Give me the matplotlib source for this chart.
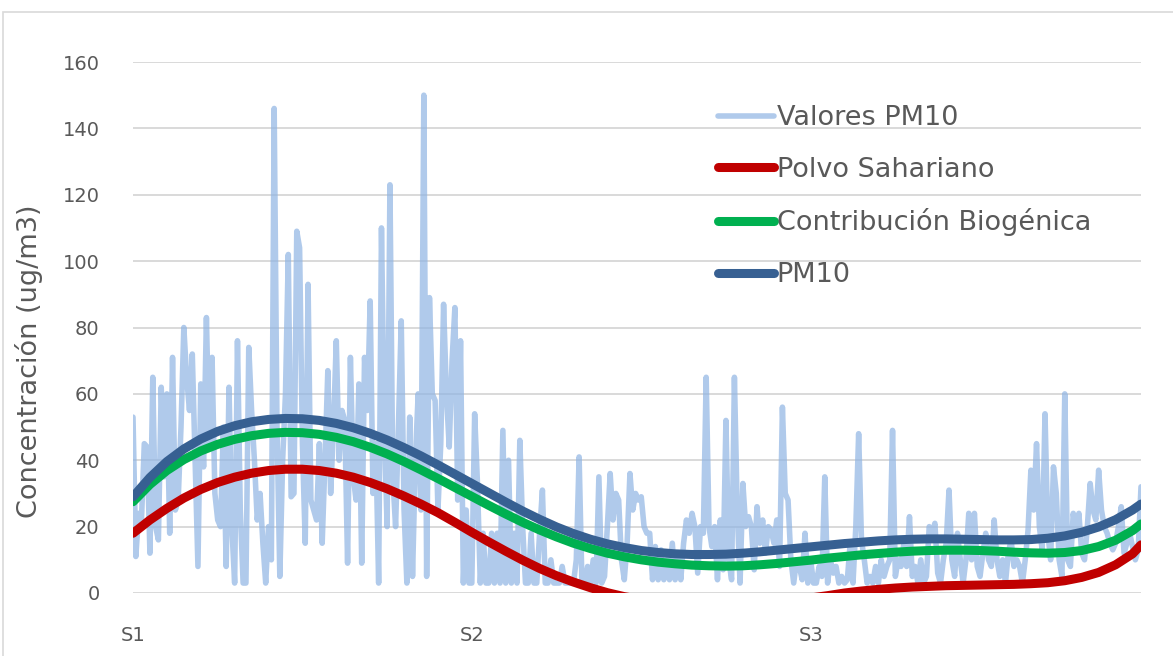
import numpy as np
import matplotlib.pyplot as plt
from matplotlib.patches import Rectangle

# daily PM10 values (ug/m3)
pm10_valores = [
    53, 11, 24, 22, 45, 44, 12, 65, 20, 16, 62, 35, 60, 18, 71, 25, 28, 50, 80, 65,
    55, 72, 40, 8, 63, 38, 83, 45, 71, 30, 22, 20, 50, 8, 62, 20, 3, 76, 25, 3,
    3, 74, 55, 40, 22, 30, 15, 3, 20, 10, 146, 50, 5, 40, 60, 102, 29, 30, 109, 104,
    45, 15, 93, 28, 25, 22, 45, 15, 40, 67, 30, 50, 76, 40, 55, 52, 9, 71, 35, 28,
    63, 9, 71, 55, 88, 30, 45, 3, 110, 50, 20, 123, 35, 20, 50, 82, 25, 3, 53, 5,
    40, 60, 25, 150, 5, 89, 60, 58, 25, 45, 87, 60, 44, 70, 86, 28, 76, 3, 25, 3,
    3, 54, 33, 3, 18, 3, 3, 18, 3, 18, 3, 49, 3, 40, 3, 18, 3, 46, 20, 3,
    3, 18, 3, 3, 18, 31, 3, 3, 10, 3, 3, 3, 8, 3, 3, 3, 3, 10, 41, 3,
    3, 8, 3, 10, 3, 35, 3, 5, 20, 36, 22, 30, 28, 10, 4, 15, 36, 25, 30, 28,
    29, 20, 18, 18, 4, 14, 4, 13, 4, 10, 4, 15, 4, 12, 4, 15, 22, 18, 24, 20,
    6, 20, 18, 65, 20, 14, 20, 4, 22, 7, 52, 10, 4, 65, 25, 3, 33, 20, 23, 20,
    7, 26, 15, 22, 12, 20, 19, 15, 22, 8, 56, 30, 28, 10, 3, 10, 8, 4, 18, 3,
    10, 3, 3, 8, 5, 35, 3, 10, 6, 8, 3, 5, 3, 4, 15, 3, 20, 48, 16, 10,
    3, 5, 3, 8, 3, 10, 5, 8, 10, 49, 5, 10, 8, 15, 8, 23, 5, 8, 3, 10,
    3, 5, 20, 18, 21, 6, 3, 10, 15, 31, 10, 5, 18, 10, 3, 10, 24, 10, 24, 8,
    5, 12, 18, 10, 8, 22, 10, 5, 10, 3, 12, 16, 8, 10, 8, 3, 10, 19, 37, 25,
    45, 20, 13, 54, 18, 10, 38, 30, 10, 5, 60, 10, 8, 24, 18, 24, 12, 10, 20, 33,
    25, 22, 37, 25, 20, 18, 15, 13, 15, 20, 26, 12, 15, 18, 14, 10, 13, 32,
]

# trend curves, read every 6 days
trend_idx = list(range(0, 355, 6)) + [357]
polvo_sahariano = [
    18.0, 22.0, 25.5, 28.6, 31.2, 33.3, 34.9, 36.1, 36.9, 37.3, 37.3, 36.9, 36.1, 34.9, 33.3,
    31.4, 29.2, 26.8, 24.2, 21.3, 18.3, 15.4, 12.6, 9.9, 7.4, 5.2, 3.3, 1.6, 0.1, -1.1,
    -2.0, -2.7, -3.2, -3.5, -3.6, -3.6, -3.4, -3.1, -2.7, -2.1, -1.5, -0.8, 0.0, 0.6, 1.1,
    1.5, 1.8, 2.0, 2.2, 2.3, 2.4, 2.5, 2.6, 2.8, 3.1, 3.7, 4.7, 6.2, 8.5, 11.8, 14.5,
]
contrib_biogenica = [
    27.5, 32.7, 36.9, 40.2, 42.8, 44.8, 46.3, 47.4, 48.1, 48.4, 48.3, 47.8, 46.9, 45.6, 43.9,
    41.9, 39.6, 37.1, 34.5, 31.8, 29.1, 26.4, 23.8, 21.3, 19.0, 16.9, 15.0, 13.4, 12.0, 10.9,
    10.0, 9.3, 8.8, 8.4, 8.2, 8.1, 8.2, 8.5, 8.9, 9.4, 9.9, 10.5, 11.0, 11.5, 11.9,
    12.3, 12.6, 12.8, 12.9, 12.9, 12.8, 12.6, 12.3, 12.1, 12.0, 12.2, 12.8, 14.0, 15.9, 18.8, 20.8,
]
pm10_tend = [
    29.0, 34.8, 39.6, 43.4, 46.4, 48.7, 50.4, 51.6, 52.3, 52.6, 52.5, 52.0, 51.1, 49.8, 48.1,
    46.1, 43.8, 41.3, 38.6, 35.8, 33.0, 30.2, 27.4, 24.7, 22.2, 19.9, 17.9, 16.2, 14.8, 13.7,
    12.8, 12.2, 11.8, 11.6, 11.6, 11.7, 12.0, 12.4, 12.9, 13.4, 13.9, 14.4, 14.9, 15.3, 15.7,
    16.0, 16.2, 16.3, 16.3, 16.2, 16.1, 16.0, 16.0, 16.1, 16.5, 17.2, 18.3, 19.9, 22.1, 25.0, 26.8,
]

x_ticks = [0, 120, 240]
x_labels = ['S1', 'S2', 'S3']
y_ticks = [0, 20, 40, 60, 80, 100, 120, 140, 160]

W, H = 1173, 656
fig = plt.figure(figsize=(W / 100, H / 100), dpi=100)
ax = fig.add_axes([133 / W, (H - 593) / H, (1141 - 133) / W, (593 - 62) / H])

# chart border
fig.patches.append(Rectangle((3 / W, -0.05), 1.2, (H - 12) / H + 0.05, transform=fig.transFigure,
                             fill=False, edgecolor='#D9D9D9', linewidth=1.2))

txt = '#595959'
x = np.arange(len(pm10_valores))
ax.plot(x, pm10_valores, color='#8FB4E3', alpha=0.7, lw=4.0, solid_joinstyle='round',
        solid_capstyle='round', label='Valores PM10', zorder=2)
ax.plot(trend_idx, polvo_sahariano, color='#C00000', lw=6.5, solid_capstyle='round',
        solid_joinstyle='round', label='Polvo Sahariano', zorder=3)
ax.plot(trend_idx, contrib_biogenica, color='#00B050', lw=6.5, solid_capstyle='round',
        solid_joinstyle='round', label='Contribución Biogénica', zorder=4)
ax.plot(trend_idx, pm10_tend, color='#376092', lw=6.5, solid_capstyle='round',
        solid_joinstyle='round', label='PM10', zorder=5)

ax.set_xlim(0, len(pm10_valores) - 1)
ax.set_ylim(0, 160)
ax.set_yticks(y_ticks)
ax.set_xticks(x_ticks)
ax.set_xticklabels(x_labels)
ax.grid(axis='y', color='#D9D9D9', lw=1.4)
ax.set_axisbelow(True)
for s in ax.spines.values():
    s.set_visible(False)
ax.tick_params(axis='y', length=0, pad=24, labelsize=14, labelcolor=txt)
ax.tick_params(axis='x', length=0, pad=24, labelsize=14, labelcolor=txt)

ax.set_ylabel('Concentración (ug/m3)', fontsize=19.5, color=txt)
ax.yaxis.set_label_coords((43 - 133) / 1008, (593 - 361) / 531)

leg = ax.legend(loc='upper left', bbox_to_anchor=(718 / W, 1 - 105 / H), bbox_transform=fig.transFigure,
                frameon=False, fontsize=19.5, handlelength=2.05, handletextpad=0.12,
                labelspacing=0.95, borderpad=0, borderaxespad=0)
for t in leg.get_texts():
    t.set_color(txt)

fig.savefig('out.png', dpi=100)
